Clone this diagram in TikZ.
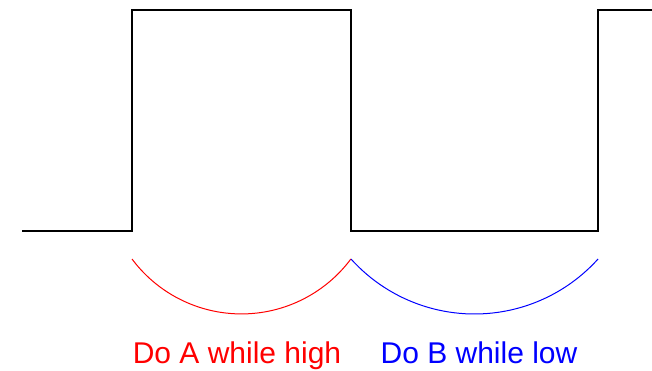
\documentclass[tikz,border=0pt]{standalone}
\usepackage{fontspec}
\setmainfont{Liberation Sans}
\usepackage{xcolor}

\begin{document}
\begin{tikzpicture}[x=1pt, y=1pt, wave/.style={line width=1.8pt, black}, phase/.style={line width=1pt}, label/.style={font=\fontsize{30}{36}\selectfont, anchor=base, inner sep=0pt}]
            \useasboundingbox (0,0) rectangle (652,370);
            \coordinate (w0) at (22,139);
            \coordinate (r1) at (132,111);
            \coordinate (f1) at (351,111);
            \coordinate (r2) at (598,111);
            
            \draw [wave] (w0) -- (132,139) -- (132,360) -- (351,360) -- (351,139) -- (598,139) -- (598,360) -- (652,360);
            \draw [phase, red] (r1) arc[start angle=216.7, end angle=323.3, radius=136.5];
            \draw [phase, blue] (f1) arc[start angle=222, end angle=318, radius=166.2];
            
            \node (hi) [label, red] at (237,7) {Do A while high};
            \node (lo) [label, blue] at (479,7) {Do B while low};
        \end{tikzpicture}
\end{document}
